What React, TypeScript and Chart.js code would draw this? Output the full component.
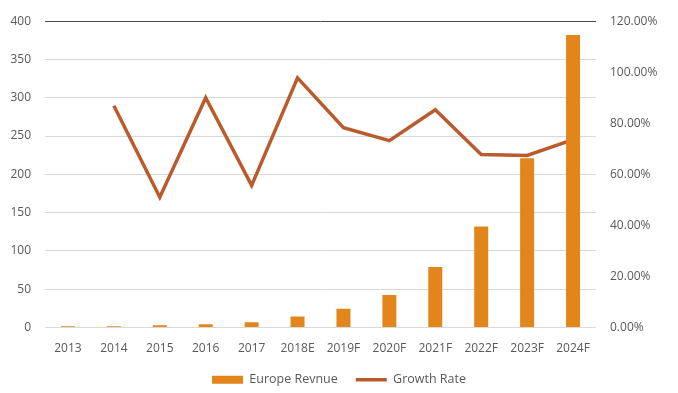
import React, { useEffect, useRef } from "react";
import { Chart, registerables } from "chart.js";

Chart.register(...registerables);

const categories = ["2013", "2014", "2015", "2016", "2017", "2018E", "2019F", "2020F", "2021F", "2022F", "2023F", "2024F"];
const europeRevenue = [1.5, 1.5, 2.9, 4.4, 7.0, 14.5, 24.5, 42.5, 79, 132, 221, 382];
const growthRate = [null, 0.869, 0.51, 0.9, 0.557, 0.978, 0.783, 0.732, 0.853, 0.678, 0.674, 0.736];

const BAR_COLOR = "#E2861B";
const LINE_COLOR = "#B95B2D";
const TEXT_COLOR = "#595959";
const FONT = "'Open Sans', sans-serif";

export default function App() {
  const canvasRef = useRef<HTMLCanvasElement | null>(null);

  useEffect(() => {
    let chart: Chart | null = null;
    let cancelled = false;
    const build = () => {
      if (cancelled || !canvasRef.current) return;
      chart = new Chart(canvasRef.current, {
        type: "bar",
        data: {
          labels: categories,
          datasets: [
            {
              type: "bar",
              label: "Europe Revnue",
              data: europeRevenue,
              backgroundColor: BAR_COLOR,
              borderWidth: 0,
              barPercentage: 0.305,
              categoryPercentage: 1,
              yAxisID: "y",
              order: 0,
            },
            {
              type: "line",
              label: "Growth Rate",
              data: growthRate as any,
              borderColor: LINE_COLOR,
              backgroundColor: LINE_COLOR,
              borderWidth: 3.5,
              pointRadius: 0,
              tension: 0,
              yAxisID: "y1",
              order: 1,
            },
          ],
        },
        options: {
          animation: false,
          responsive: true,
          maintainAspectRatio: false,
          layout: { padding: { top: 18, left: 0, right: 0, bottom: -3 } },
          plugins: {
            tooltip: { enabled: false },
            legend: {
              position: "bottom",
              labels: {
                usePointStyle: true,
                pointStyleWidth: 31,
                boxWidth: 31,
                boxHeight: 8,
                padding: 18,
                color: TEXT_COLOR,
                font: { family: FONT, size: 12.5 },
                generateLabels: () => [
                  {
                    text: "Europe Revnue",
                    fillStyle: BAR_COLOR,
                    strokeStyle: BAR_COLOR,
                    lineWidth: 0,
                    pointStyle: "rect",
                    datasetIndex: 0,
                    hidden: false,
                    fontColor: TEXT_COLOR,
                  } as any,
                  {
                    text: "Growth Rate",
                    fillStyle: LINE_COLOR,
                    strokeStyle: LINE_COLOR,
                    lineWidth: 3.5,
                    pointStyle: "line",
                    datasetIndex: 1,
                    hidden: false,
                    fontColor: TEXT_COLOR,
                  } as any,
                ],
              },
            },
          },
          scales: {
            x: {
              type: "category",
              grid: { display: false },
              border: { display: false },
              ticks: {
                color: TEXT_COLOR,
                font: { family: FONT, size: 12 },
                padding: 6,
                maxRotation: 0,
                autoSkip: false,
              },
              afterFit: (s: any) => {
                s.height = 28;
              },
            },
            y: {
              position: "left",
              min: 0,
              max: 400,
              grid: {
                color: (ctx: any) => (ctx.tick && ctx.tick.value === 400 ? "#4a4a4a" : "#d9d9d9"),
                drawTicks: false,
              },
              border: { display: false },
              ticks: {
                stepSize: 50,
                color: TEXT_COLOR,
                font: { family: FONT, size: 12 },
                padding: 14,
              },
              afterFit: (s: any) => {
                s.width = 45;
              },
            },
            y1: {
              position: "right",
              min: 0,
              max: 1.2,
              grid: { display: false, drawTicks: false },
              border: { display: false },
              ticks: {
                stepSize: 0.2,
                color: TEXT_COLOR,
                font: { family: FONT, size: 12 },
                padding: 14,
                callback: (v: any) => (Number(v) * 100).toFixed(2) + "%",
              },
              afterFit: (s: any) => {
                s.width = 82;
              },
            },
          },
        },
      });
    };
    const fontsReady = (document as any).fonts
      ? Promise.all([
          (document as any).fonts.load("12px 'Open Sans'"),
          (document as any).fonts.load("12.5px 'Open Sans'"),
        ]).catch(() => null)
      : Promise.resolve(null);
    fontsReady.then(build);
    return () => {
      cancelled = true;
      if (chart) chart.destroy();
    };
  }, []);

  return (
    <div style={{ position: "fixed", left: 0, top: 0, width: 678, height: 393, background: "#ffffff" }}>
      <canvas ref={canvasRef} />
    </div>
  );
}
